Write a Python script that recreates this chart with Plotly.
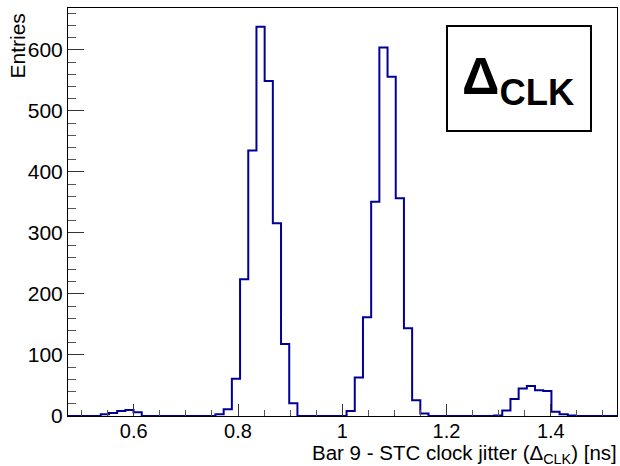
import plotly.graph_objects as go

# ---- data ----
x_min = 0.4739          # left edge of first bin
bin_width = 0.015717    # bin width (ns)
counts = [
    0, 0, 0, 0, 3, 5, 8, 10, 6, 0,          # bins 0-9
    0, 0, 0, 0, 0, 0, 0, 0, 3, 11,          # bins 10-19
    61, 224, 435, 638, 549, 316, 118, 21, 0, 0,  # bins 20-29
    0, 0, 0, 0, 8, 63, 162, 351, 604, 556,  # bins 30-39
    357, 144, 26, 4, 0, 0, 0, 0, 0, 0,      # bins 40-49
    0, 0, 1, 9, 28, 45, 49, 42, 41, 7,      # bins 50-59
    3, 1, 0, 0, 0, 0, 0,                    # bins 60-66
]
x_range = [0.4739, 1.5270]
y_range = [0, 668.6]
x_tick_vals = [0.6, 0.8, 1.0, 1.2, 1.4]
x_tick_text = ["0.6", "0.8", "1", "1.2", "1.4"]
y_tick_vals = [0, 100, 200, 300, 400, 500, 600]
x_title = "Bar 9 - STC clock jitter (Δ<sub>CLK</sub>) [ns]"
y_title = "Entries"
box_label = "<b>Δ<sub>CLK</sub></b>"

# step outline
edges = [x_min + i * bin_width for i in range(len(counts) + 1)]
xs = edges
ys = counts + [counts[-1]]

FONT = "Liberation Sans, Arial, sans-serif"
LINE_COLOR = "#000099"

fig = go.Figure()
fig.add_trace(go.Scatter(
    x=xs, y=ys, mode="lines", line=dict(shape="hv", color=LINE_COLOR, width=2),
    hoverinfo="skip", showlegend=False,
))

W, H = 620, 466
ml, mr, mt, mb = 68, 3, 8, 50
pw, ph = W - ml - mr, H - mt - mb

def px2paper_x(px):
    return (px - ml) / pw

def px2paper_y(py):
    return (H - mb - py) / ph

fig.update_layout(
    width=W, height=H,
    margin=dict(l=ml, r=mr, t=mt, b=mb, pad=0),
    paper_bgcolor="white", plot_bgcolor="white",
    font=dict(family=FONT, color="black", size=20),
    showlegend=False,
    xaxis=dict(
        range=x_range, showgrid=False, zeroline=False,
        showline=True, linecolor="black", linewidth=1, mirror=True,
        ticks="inside", ticklen=12, tickwidth=1, tickcolor="#333333",
        tickvals=x_tick_vals, ticktext=x_tick_text,
        ticklabelstandoff=-3,
        tickfont=dict(size=20, family=FONT, color="black"),
        minor=dict(dtick=0.05, tick0=0, ticks="inside", ticklen=6, tickwidth=1, tickcolor="#555555"),
    ),
    yaxis=dict(
        range=y_range, showgrid=False, zeroline=False,
        showline=True, linecolor="black", linewidth=1, mirror=True,
        ticks="inside", ticklen=16, tickwidth=1, tickcolor="#333333",
        tickvals=y_tick_vals,
        tickfont=dict(size=21, family=FONT, color="black"),
        minor=dict(dtick=20, tick0=0, ticks="inside", ticklen=8, tickwidth=1, tickcolor="#555555"),
    ),
)

# axis titles (ROOT style: right / top aligned)
fig.add_annotation(
    text=x_title, xref="paper", yref="paper",
    x=px2paper_x(619), y=px2paper_y(454), xanchor="right", yanchor="middle",
    showarrow=False, font=dict(size=20.5, family=FONT, color="black"),
)
fig.add_annotation(
    text=y_title, xref="paper", yref="paper",
    x=px2paper_x(17), y=px2paper_y(12), xanchor="center", yanchor="top",
    textangle=-90, showarrow=False, font=dict(size=21, family=FONT, color="black"),
)

# label box
fig.add_shape(
    type="rect", xref="paper", yref="paper",
    x0=px2paper_x(447), x1=px2paper_x(591), y0=px2paper_y(131), y1=px2paper_y(26),
    line=dict(color="black", width=2), fillcolor="white",
)
fig.add_annotation(
    text=box_label, xref="paper", yref="paper",
    x=px2paper_x(518), y=px2paper_y(80), xanchor="center", yanchor="middle",
    showarrow=False, font=dict(size=52, family=FONT, color="black"),
)

fig.write_html("out.html")
